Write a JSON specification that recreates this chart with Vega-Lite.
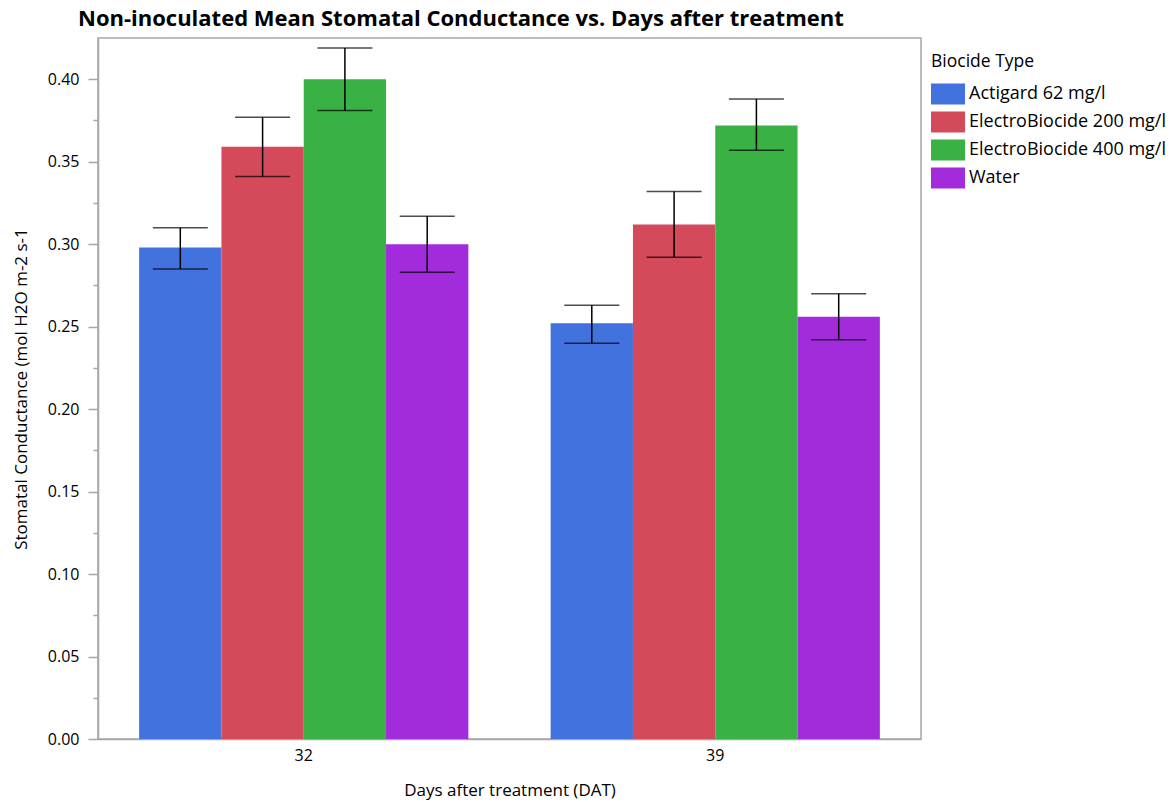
{
  "$schema": "https://vega.github.io/schema/vega-lite/v6.json",
  "width": 823,
  "height": 701,
  "autosize": {"type": "none"},
  "padding": {"left": 98, "top": 38, "right": 255, "bottom": 63},
  "background": "white",
  "title": {
    "text": "Non-inoculated Mean Stomatal Conductance vs. Days after treatment",
    "anchor": "start",
    "frame": "group",
    "dx": -20,
    "offset": 7,
    "font": "Open Sans",
    "fontSize": 22,
    "fontWeight": "bold",
    "color": "black"
  },
  "config": {
    "font": "Open Sans",
    "view": {"stroke": "#a6a6a6", "strokeWidth": 1.5},
    "axis": {
      "domainColor": "#a6a6a6",
      "domainWidth": 1.5,
      "tickColor": "#a6a6a6",
      "tickWidth": 1.5,
      "labelFont": "Open Sans",
      "labelFontSize": 16,
      "labelColor": "black",
      "titleFont": "Open Sans",
      "titleFontSize": 17,
      "titleFontWeight": "normal",
      "titleColor": "black",
      "grid": false
    },
    "legend": {
      "labelFont": "Open Sans",
      "labelFontSize": 18,
      "labelColor": "black",
      "labelLimit": 400,
      "titleFont": "Open Sans",
      "titleFontSize": 17.5,
      "titleFontWeight": "normal",
      "titleColor": "black"
    }
  },
  "data": {
    "values": [
      {"dat": "32", "biocide": "Actigard 62 mg/l", "mean": 0.298, "lo": 0.285, "hi": 0.310},
      {"dat": "32", "biocide": "ElectroBiocide 200 mg/l", "mean": 0.359, "lo": 0.341, "hi": 0.377},
      {"dat": "32", "biocide": "ElectroBiocide 400 mg/l", "mean": 0.400, "lo": 0.381, "hi": 0.419},
      {"dat": "32", "biocide": "Water", "mean": 0.300, "lo": 0.283, "hi": 0.317},
      {"dat": "39", "biocide": "Actigard 62 mg/l", "mean": 0.252, "lo": 0.240, "hi": 0.263},
      {"dat": "39", "biocide": "ElectroBiocide 200 mg/l", "mean": 0.312, "lo": 0.292, "hi": 0.332},
      {"dat": "39", "biocide": "ElectroBiocide 400 mg/l", "mean": 0.372, "lo": 0.357, "hi": 0.388},
      {"dat": "39", "biocide": "Water", "mean": 0.256, "lo": 0.242, "hi": 0.270}
    ]
  },
  "encoding": {
    "x": {
      "field": "dat",
      "type": "nominal",
      "scale": {"paddingInner": 0.2, "paddingOuter": 0.1},
      "axis": {
        "title": "Days after treatment (DAT)",
        "labelAngle": 0,
        "ticks": false,
        "labelPadding": 8,
        "titlePadding": 19
      }
    },
    "xOffset": {
      "field": "biocide",
      "type": "nominal",
      "scale": {"paddingInner": 0, "paddingOuter": 0}
    }
  },
  "layer": [
    {
      "mark": {"type": "bar"},
      "encoding": {
        "y": {
          "field": "mean",
          "type": "quantitative",
          "scale": {"domain": [0, 0.425], "nice": false, "zero": true},
          "axis": {
            "title": "Stomatal Conductance (mol H2O m-2 s-1",
            "values": [0, 0.025, 0.05, 0.075, 0.1, 0.125, 0.15, 0.175, 0.2, 0.225, 0.25, 0.275, 0.3, 0.325, 0.35, 0.375, 0.4],
            "labelExpr": "round(datum.value * 1000) % 50 === 0 ? format(datum.value, '.2f') : ''",
            "tickSize": {"condition": {"test": "round(datum.value * 1000) % 50 === 0", "value": 10}, "value": 5},
            "labelPadding": 9,
            "titlePadding": 17
          }
        },
        "color": {
          "field": "biocide",
          "type": "nominal",
          "scale": {
            "domain": ["Actigard 62 mg/l", "ElectroBiocide 200 mg/l", "ElectroBiocide 400 mg/l", "Water"],
            "range": ["#4172DE", "#D44A5A", "#3AB144", "#A22BDB"]
          },
          "legend": {
            "title": "Biocide Type",
            "orient": "none",
            "legendX": 833,
            "legendY": 15,
            "padding": 0,
            "symbolType": "M-1,-1H2.24V1H-1Z",
            "symbolSize": 441,
            "symbolStrokeWidth": 0,
            "symbolOpacity": 1,
            "labelOffset": 17,
            "rowPadding": 7,
            "titlePadding": 13
          }
        }
      }
    },
    {
      "mark": {"type": "rule", "color": "black", "strokeWidth": 1.5},
      "encoding": {
        "y": {"field": "lo", "type": "quantitative"},
        "y2": {"field": "hi"}
      }
    },
    {
      "mark": {"type": "tick", "color": "black", "size": 55, "thickness": 1.5},
      "encoding": {
        "y": {"field": "lo", "type": "quantitative"}
      }
    },
    {
      "mark": {"type": "tick", "color": "black", "size": 55, "thickness": 1.5},
      "encoding": {
        "y": {"field": "hi", "type": "quantitative"}
      }
    }
  ]
}
